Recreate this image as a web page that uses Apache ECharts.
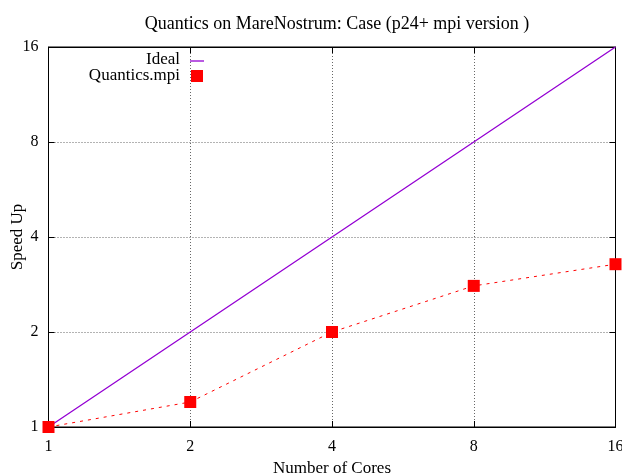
<!DOCTYPE html>
<html><head><meta charset="utf-8">
<script src="https://cdn.jsdelivr.net/npm/echarts@6/dist/echarts.min.js"></script>
<style>html,body{margin:0;padding:0;background:#fff}#c{width:622px;height:475px}</style>
</head><body><div id="c"></div>
<script>
const cores = [1, 2, 4, 8, 16];
const idealSpeedup = [1, 2, 4, 8, 16];
const mpiSpeedup = [1, 1.2, 2.0, 2.8, 3.28];
const titleText = 'Quantics on MareNostrum: Case (p24+ mpi version )';
const seriesNames = ['Ideal', 'Quantics.mpi'];
const yAxisName = 'Speed Up';
const xAxisName = 'Number of Cores';

const FONT = 'Liberation Serif';
const chart = echarts.init(document.getElementById('c'));
const gridL = 48.5, gridR = 6.5, gridT = 47, gridB = 48;
const axisCommon = {
  type: 'log', logBase: 2, min: 1, max: 16,
  axisLine: {show: true, lineStyle: {color: '#000', width: 1}},
  axisTick: {show: true, inside: true, length: 6, lineStyle: {color: '#000'}},
  minorTick: {show: false},
  splitLine: {show: true, lineStyle: {color: '#000', type: [1, 2], width: 0.6}},
};
chart.setOption({
  animation: false,
  title: {text: titleText, left: 332, top: 10, textAlign: 'center',
    textStyle: {fontFamily: FONT, fontSize: 18, fontWeight: 'normal', color: '#000'}},
  grid: {left: gridL, right: gridR, top: gridT, bottom: gridB, containLabel: false, outerBoundsMode: 'none',
    show: true, borderColor: '#000', borderWidth: 1},
  xAxis: [
    Object.assign({}, axisCommon, {
      position: 'bottom', name: xAxisName, nameLocation: 'middle', nameGap: 32,
      nameTextStyle: {fontFamily: FONT, fontSize: 17, color: '#000'},
      axisLabel: {fontFamily: FONT, fontSize: 16, color: '#000', margin: 12, formatter: v => String(Math.round(v))}
    }),
    Object.assign({}, axisCommon, {position: 'top', axisLabel: {show: false}, splitLine: {show: false}})
  ],
  yAxis: [
    Object.assign({}, axisCommon, {
      position: 'left',
      axisLabel: {fontFamily: FONT, fontSize: 16, color: '#000', margin: 10, formatter: v => String(Math.round(v))}
    }),
    Object.assign({}, axisCommon, {position: 'right', axisLabel: {show: false}, splitLine: {show: false}})
  ],
  series: [
    {name: seriesNames[0], type: 'line', data: cores.map((c, i) => [c, idealSpeedup[i]]),
      showSymbol: false, lineStyle: {color: '#9400D3', width: 1.3}, z: 3},
    {name: seriesNames[1], type: 'line', data: cores.map((c, i) => [c, mpiSpeedup[i]]),
      symbol: 'rect', symbolSize: 12, itemStyle: {color: '#ff0000'},
      lineStyle: {color: '#ff0000', width: 1, type: [3, 5]}, z: 4}
  ],
  graphic: [
    {type: 'text', x: 18, y: 237, rotation: Math.PI / 2,
      style: {text: yAxisName, font: '17px "Liberation Serif"', fill: '#000', textAlign: 'center', textVerticalAlign: 'middle'}},
    {type: 'text', x: 180, y: 51, style: {text: seriesNames[0], font: '17px "Liberation Serif"', fill: '#000', textAlign: 'right'}},
    {type: 'line', shape: {x1: 190, y1: 61, x2: 204, y2: 61}, style: {stroke: '#9400D3', lineWidth: 1.3}},
    {type: 'text', x: 180, y: 67, style: {text: seriesNames[1], font: '17px "Liberation Serif"', fill: '#000', textAlign: 'right'}},
    {type: 'rect', shape: {x: 191, y: 70, width: 12, height: 12}, style: {fill: '#ff0000'}}
  ]
});
</script></body></html>
